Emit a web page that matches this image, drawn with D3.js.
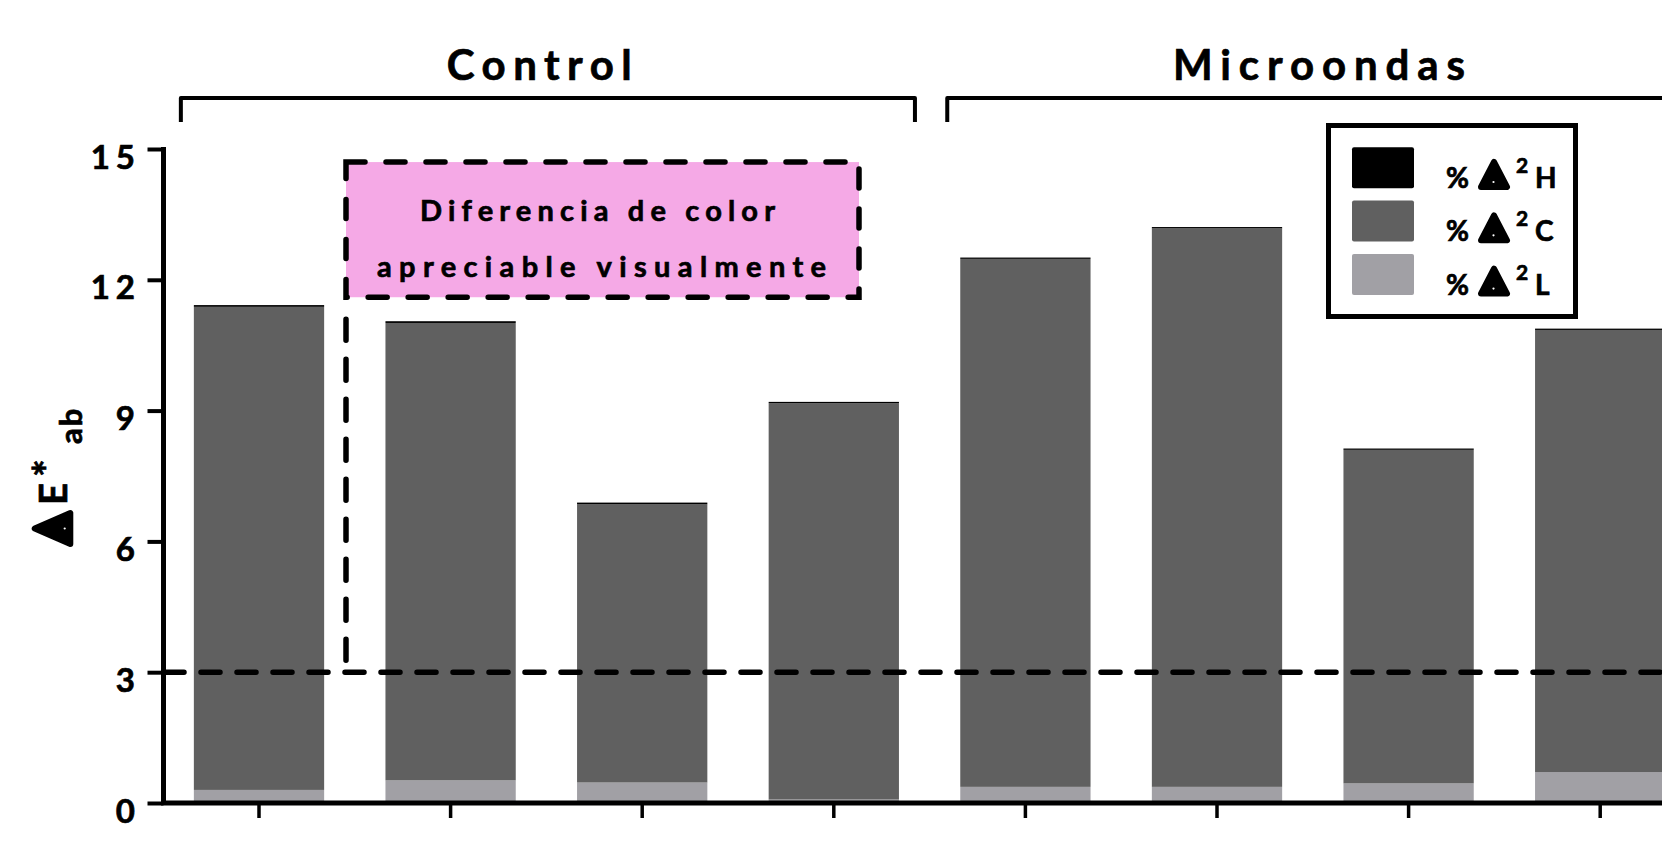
<!DOCTYPE html>
<html><head><meta charset="utf-8">
<script src="https://cdn.jsdelivr.net/npm/d3@7"></script>
<style>
body{margin:0;background:#fff}
svg{display:block}
text{font-family:Lato,"Open Sans",sans-serif;font-weight:700;fill:#000;stroke:#000;stroke-width:0.7px;paint-order:stroke}
</style>
</head><body>
<svg id="chart" width="1662" height="843"></svg>
<script>
// ---------- data ----------
const categories = ["Control 1","Control 2","Control 3","Control 4","Microondas 1","Microondas 2","Microondas 3","Microondas 4"];
const groupNames = ["Control","Microondas"];
const lValues = [0.30, 0.52, 0.47, 0.08, 0.37, 0.37, 0.45, 0.71];   // %Δ²L
const cValues = [11.08, 10.49, 6.38, 9.09, 12.11, 12.81, 7.65, 10.14]; // %Δ²C
const hValues = [0.04, 0.04, 0.04, 0.03, 0.03, 0.03, 0.03, 0.03];   // %Δ²H
const yTicks = [0, 3, 6, 9, 12, 15];
const threshold = 3;
const annotationTop = 14.7, annotationBottom = 11.6;
const annotationLines = ["Diferencia de color", "apreciable visualmente"];
const legendLetters = ["H", "C", "L"];

// ---------- setup ----------
const svg = d3.select("#chart");
svg.append("rect").attr("width",1662).attr("height",843).attr("fill","#fff");

const y = d3.scaleLinear().domain([0,15]).range([803,149]);
const x = d3.scaleBand().domain(categories)
  .range([163.2, 163.2 + 8*191.6]).paddingInner(0.32).paddingOuter(0.16);
const colors = {L:"#a1a0a5", C:"#606060", H:"#000000"};

const rows = categories.map((c,i)=>({cat:c, L:lValues[i], C:cValues[i], H:hValues[i]}));
const stack = d3.stack().keys(["L","C","H"])(rows);

// bars
svg.append("g").selectAll("g").data(stack).join("g")
  .attr("fill", d=>colors[d.key])
  .selectAll("rect").data(d=>d).join("rect")
  .attr("x", d=>x(d.data.cat))
  .attr("width", x.bandwidth())
  .attr("y", d=>y(d[1]))
  .attr("height", d=>Math.max(0, y(d[0]) - y(d[1])));

// threshold dashed line
svg.append("line")
  .attr("x1", 165).attr("x2", 1662)
  .attr("y1", y(threshold)).attr("y2", y(threshold))
  .attr("stroke","#000").attr("stroke-width",5.5)
  .attr("stroke-dasharray","19,17").attr("stroke-linecap","round");

// annotation box
const boxL = 346, boxR = 859;
svg.append("line")
  .attr("x1", boxL).attr("x2", boxL)
  .attr("y1", y(annotationBottom)+22).attr("y2", y(threshold))
  .attr("stroke","#000").attr("stroke-width",5.5)
  .attr("stroke-dasharray","21,19").attr("stroke-linecap","round");
svg.append("rect")
  .attr("x", boxL).attr("y", y(annotationTop))
  .attr("width", boxR-boxL).attr("height", y(annotationBottom)-y(annotationTop))
  .attr("fill","#f5a9e6").attr("stroke","#000").attr("stroke-width",5.5)
  .attr("stroke-dasharray","19,21").attr("stroke-linecap","round");
const annoSpecs = [{x:420, w:355, yb:221}, {x:377, w:449, yb:277}];
annotationLines.forEach((t,i)=>{
  svg.append("text").attr("x", annoSpecs[i].x).attr("y", annoSpecs[i].yb)
    .attr("font-size",29).attr("textLength", annoSpecs[i].w)
    .attr("lengthAdjust","spacing").text(t);
});

// y axis
const yAxis = d3.axisLeft(y).tickValues(yTicks).tickSize(16).tickSizeOuter(0).tickPadding(6.5);
const gy = svg.append("g").attr("transform","translate(163.5,0)").call(yAxis);
gy.select(".domain").attr("stroke","#000").attr("stroke-width",5)
  .attr("d", `M0,${y(15)-2}V${y(0)+2}`);
gy.selectAll(".tick line").attr("stroke","#000").attr("stroke-width",4);
gy.selectAll(".tick text")
  .attr("font-size",33).attr("font-family","Lato, sans-serif").attr("font-weight",700)
  .attr("letter-spacing",6).attr("dy","0.58em").attr("fill","#000")
  .attr("stroke","#000").attr("stroke-width",0.7);

// x axis
const xAxis = d3.axisBottom(x).tickSize(15).tickSizeOuter(0).tickFormat("");
const gx = svg.append("g").attr("transform",`translate(0,${y(0)})`).call(xAxis);
gx.select(".domain").attr("stroke","#000").attr("stroke-width",5)
  .attr("d", `M161,0H1662`);
gx.selectAll(".tick line").attr("stroke","#000").attr("stroke-width",3.5);

// group brackets and titles
const groupsDef = [
  {name:groupNames[0], l:x(categories[0])-13, r:x(categories[3])+x.bandwidth()+16, tx:446.7, tw:185},
  {name:groupNames[1], l:x(categories[4])-13, r:x(categories[7])+x.bandwidth()+16, tx:1173, tw:292}
];
groupsDef.forEach(g=>{
  svg.append("path").attr("d",`M${g.l},122V98H${g.r}V122`)
    .attr("fill","none").attr("stroke","#000").attr("stroke-width",4)
    .attr("stroke-linejoin","round");
  svg.append("text").attr("x",g.tx).attr("y",80).attr("font-size",42)
    .attr("textLength",g.tw).attr("lengthAdjust","spacing").text(g.name);
});

// rounded triangle (delta glyph)
function triangle(parent, cx, bottom, w, h, dotX, dotY){
  const r = 3;
  const g = parent.append("g");
  g.append("path")
    .attr("d", `M${cx},${bottom-h+r}L${cx+w/2-r},${bottom-r}L${cx-w/2+r},${bottom-r}Z`)
    .attr("fill","#000").attr("stroke","#000").attr("stroke-width",2*r).attr("stroke-linejoin","round");
  g.append("circle").attr("cx",dotX).attr("cy",dotY).attr("r",1.1).attr("fill","#fff");
  return g;
}

// y axis label
const yl = svg.append("g").attr("transform","translate(66.7,547) rotate(-90)");
triangle(yl, 18.5, 6.6, 37, 41.6, 18.5, -2);
yl.append("text").attr("x",42).attr("y",0).attr("font-size",38).text("E");
yl.append("text").attr("x",70).attr("y",-3).attr("font-size",42).text("*");
yl.append("text").attr("x",103).attr("y",15).attr("font-size",31).attr("letter-spacing",2).text("ab");

// legend
const lg = svg.append("g");
lg.append("rect").attr("x",1328.5).attr("y",125.5).attr("width",247).attr("height",191)
  .attr("fill","#fff").attr("stroke","#000").attr("stroke-width",5);
const legendColors = [colors.H, colors.C, colors.L];
legendLetters.forEach((letter,i)=>{
  const top = 147.3 + i*53.3;
  const base = 188 + i*53.3;
  lg.append("rect").attr("x",1352).attr("y",top).attr("width",62).attr("height",41)
    .attr("rx",2).attr("fill",legendColors[i]);
  lg.append("text").attr("x",1446).attr("y",base).attr("font-size",28).text("%");
  triangle(lg, 1494, base+2, 32, 31, 1493.5, base-6);
  lg.append("text").attr("x",1516).attr("y",base-15).attr("font-size",21).text("2");
  lg.append("text").attr("x",1535).attr("y",base).attr("font-size",28).text(letter);
});
</script>
</body></html>
